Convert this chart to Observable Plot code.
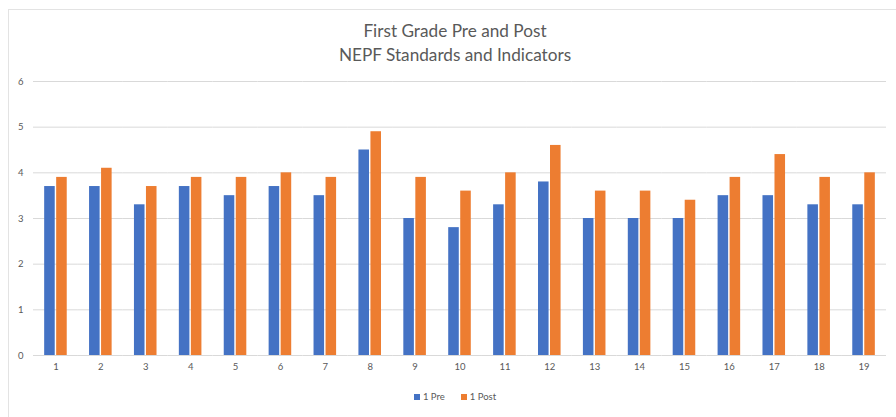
<!DOCTYPE html>
<html>
<head>
<meta charset="utf-8">
<script src="https://cdn.jsdelivr.net/npm/d3@7"></script>
<script src="https://cdn.jsdelivr.net/npm/@observablehq/plot@0.6"></script>
<style>
  html, body { margin: 0; padding: 0; background: #fff; }
  body { width: 896px; height: 417px; position: relative; overflow: hidden; font-family: Lato, "Open Sans", sans-serif; }
  #frame { position: absolute; left: 8px; top: 9px; width: 900px; height: 420px; border-left: 1px solid #e3e3e3; border-top: 1px solid #e3e3e3; }
  #title { position: absolute; left: 0; top: 19px; width: 910px; text-align: center; color: #595959; font-size: 17.2px; line-height: 24px; }
  #chart { position: absolute; left: 0; top: 0; }
  #legend { position: absolute; left: 0; top: 391px; width: 910px; text-align: center; color: #595959; font-size: 9.5px; }
  #legend span.sw { display: inline-block; width: 6px; height: 6px; margin-right: 3px; vertical-align: 0px; }
  #legend span.it { margin: 0 8px; }
</style>
</head>
<body>
<div id="frame"></div>
<div id="chart"></div>
<div id="title">First Grade Pre and Post<br>NEPF Standards and Indicators</div>
<div id="legend"></div>
<script>
const categories = ["1","2","3","4","5","6","7","8","9","10","11","12","13","14","15","16","17","18","19"];
const seriesNames = ["1 Pre", "1 Post"];
const preValues  = [3.7, 3.7, 3.3, 3.7, 3.5, 3.7, 3.5, 4.5, 3.0, 2.8, 3.3, 3.8, 3.0, 3.0, 3.0, 3.5, 3.5, 3.3, 3.3];
const postValues = [3.9, 4.1, 3.7, 3.9, 3.9, 4.0, 3.9, 4.9, 3.9, 3.6, 4.0, 4.6, 3.6, 3.6, 3.4, 3.9, 4.4, 3.9, 4.0];
const colors = ["#4472C4", "#ED7D31"];
const yTicks = [0, 1, 2, 3, 4, 5, 6];

const data = [];
categories.forEach((c, i) => {
  data.push({cat: c, series: seriesNames[0], value: preValues[i]});
  data.push({cat: c, series: seriesNames[1], value: postValues[i]});
});

const chart = Plot.plot({
  width: 896,
  height: 380,
  marginTop: 81,
  marginBottom: 25,
  marginLeft: 33,
  marginRight: 10,
  facet: {marginTop: 0, marginRight: 0, marginBottom: 0, marginLeft: 0},
  style: {fontFamily: "Lato, 'Open Sans', sans-serif", fontSize: "9.5px", color: "#595959", background: "transparent"},
  fx: {domain: categories, padding: 0, round: false, label: null, tickSize: 0, tickPadding: 8},
  x: {domain: seriesNames, paddingInner: 0.12, paddingOuter: 0.93, round: false, axis: null},
  y: {domain: [0, 6], ticks: yTicks, label: null, tickSize: 0, tickPadding: 10, tickFormat: "d"},
  color: {domain: seriesNames, range: colors},
  marks: [
    Plot.ruleY(yTicks, {stroke: "#d9d9d9", strokeWidth: 1}),
    Plot.barY(data, {fx: "cat", x: "series", y: "value", fill: "series"}),
    Plot.axisY({ticks: yTicks, tickSize: 0, tickPadding: 10, tickFormat: "d", fill: "#595959", label: null})
  ]
});
document.getElementById("chart").appendChild(chart);

const legend = document.getElementById("legend");
seriesNames.forEach((s, i) => {
  const it = document.createElement("span");
  it.className = "it";
  it.innerHTML = `<span class="sw" style="background:${colors[i]}"></span>${s}`;
  legend.appendChild(it);
});
</script>
</body>
</html>
